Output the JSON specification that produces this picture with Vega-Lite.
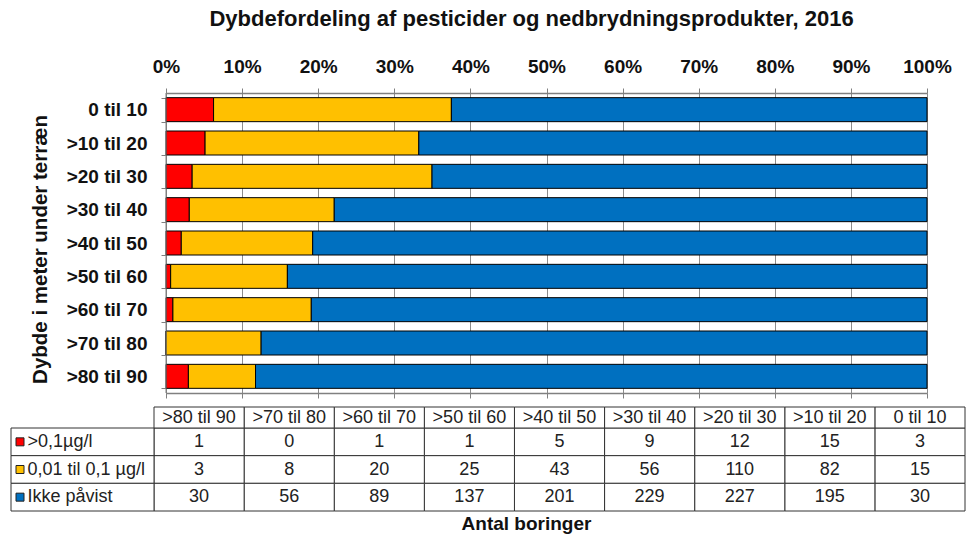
{
  "$schema": "https://vega.github.io/schema/vega-lite/v6.json",
  "width": 761,
  "height": 300,
  "autosize": {"type": "none"},
  "padding": {"left": 166, "top": 93, "right": 51, "bottom": 141},
  "background": "white",
  "config": {
    "view": {"stroke": null},
    "font": "Liberation Sans",
    "axis": {"labelFont": "Liberation Sans", "titleFont": "Liberation Sans"},
    "text": {"font": "Liberation Sans"}
  },
  "title": {
    "text": "Dybdefordeling af pesticider og nedbrydningsprodukter, 2016",
    "font": "Liberation Sans",
    "fontSize": 22,
    "fontWeight": "bold",
    "color": "#111111",
    "frame": "group",
    "anchor": "middle",
    "dx": -15,
    "offset": 26
  },
  "datasets": {
    "counts": [
      {"depth": "0 til 10", "series": ">0,1µg/l", "n": 3},
      {"depth": "0 til 10", "series": "0,01 til 0,1 µg/l", "n": 15},
      {"depth": "0 til 10", "series": "Ikke påvist", "n": 30},
      {"depth": ">10 til 20", "series": ">0,1µg/l", "n": 15},
      {"depth": ">10 til 20", "series": "0,01 til 0,1 µg/l", "n": 82},
      {"depth": ">10 til 20", "series": "Ikke påvist", "n": 195},
      {"depth": ">20 til 30", "series": ">0,1µg/l", "n": 12},
      {"depth": ">20 til 30", "series": "0,01 til 0,1 µg/l", "n": 110},
      {"depth": ">20 til 30", "series": "Ikke påvist", "n": 227},
      {"depth": ">30 til 40", "series": ">0,1µg/l", "n": 9},
      {"depth": ">30 til 40", "series": "0,01 til 0,1 µg/l", "n": 56},
      {"depth": ">30 til 40", "series": "Ikke påvist", "n": 229},
      {"depth": ">40 til 50", "series": ">0,1µg/l", "n": 5},
      {"depth": ">40 til 50", "series": "0,01 til 0,1 µg/l", "n": 43},
      {"depth": ">40 til 50", "series": "Ikke påvist", "n": 201},
      {"depth": ">50 til 60", "series": ">0,1µg/l", "n": 1},
      {"depth": ">50 til 60", "series": "0,01 til 0,1 µg/l", "n": 25},
      {"depth": ">50 til 60", "series": "Ikke påvist", "n": 137},
      {"depth": ">60 til 70", "series": ">0,1µg/l", "n": 1},
      {"depth": ">60 til 70", "series": "0,01 til 0,1 µg/l", "n": 20},
      {"depth": ">60 til 70", "series": "Ikke påvist", "n": 89},
      {"depth": ">70 til 80", "series": ">0,1µg/l", "n": 0},
      {"depth": ">70 til 80", "series": "0,01 til 0,1 µg/l", "n": 8},
      {"depth": ">70 til 80", "series": "Ikke påvist", "n": 56},
      {"depth": ">80 til 90", "series": ">0,1µg/l", "n": 1},
      {"depth": ">80 til 90", "series": "0,01 til 0,1 µg/l", "n": 3},
      {"depth": ">80 til 90", "series": "Ikke påvist", "n": 30}
    ]
  },
  "data": {"name": "counts"},
  "layer": [
    {
      "transform": [{"calculate": "indexof(['>0,1µg/l', '0,01 til 0,1 µg/l', 'Ikke påvist'], datum.series)", "as": "stackOrder"}],
      "mark": {"type": "bar", "stroke": "#000000", "strokeWidth": 1},
      "encoding": {
        "y": {
          "field": "depth", "type": "nominal",
          "sort": ["0 til 10", ">10 til 20", ">20 til 30", ">30 til 40", ">40 til 50", ">50 til 60", ">60 til 70", ">70 til 80", ">80 til 90"],
          "scale": {"paddingInner": 0.28, "paddingOuter": 0.14},
          "axis": {
            "title": "Dybde i meter under  terræn",
            "tickBand": "extent", "tickSize": 5, "labelPadding": 14, "titlePadding": 16,
            "labelFontSize": 19, "labelFontWeight": "bold", "labelColor": "#111111",
            "titleFontSize": 20.5, "titleFontWeight": "bold", "titleColor": "#111111",
            "titleY": 156,
            "domainColor": "#808080", "tickColor": "#808080", "grid": false
          }
        },
        "x": {
          "field": "n", "type": "quantitative", "stack": "normalize",
          "scale": {"domain": [0, 1]},
          "axis": {
            "orient": "top", "title": null, "format": ".0%", "labelFlush": false,
            "values": [0, 0.1, 0.2, 0.3, 0.4, 0.5, 0.6, 0.7, 0.8, 0.9, 1],
            "grid": true, "gridColor": "#8c8c8c", "gridWidth": 1,
            "tickSize": 5, "labelPadding": 12,
            "labelFontSize": 19, "labelFontWeight": "bold", "labelColor": "#111111",
            "domainColor": "#808080", "domainWidth": 1.5, "tickColor": "#808080"
          }
        },
        "color": {
          "field": "series", "type": "nominal",
          "scale": {"domain": [">0,1µg/l", "0,01 til 0,1 µg/l", "Ikke påvist"], "range": ["#FF0000", "#FFC000", "#0070C0"]},
          "legend": null
        },
        "order": {"field": "stackOrder", "type": "quantitative"}
      }
    },
    {
      "data": {"values": [{"k": 1}]},
      "mark": {"type": "rule", "color": "#808080", "strokeWidth": 1},
      "encoding": {
        "x": {
          "datum": 0, "type": "quantitative",
          "scale": {"domain": [0, 1]},
          "axis": {
            "orient": "bottom", "title": null, "labels": false, "grid": false,
            "values": [0, 0.1, 0.2, 0.3, 0.4, 0.5, 0.6, 0.7, 0.8, 0.9, 1],
            "tickSize": 5, "domainColor": "#808080", "domainWidth": 1.5, "tickColor": "#808080"
          }
        }
      }
    },
    {
      "encoding": {
        "x": {
          "field": "depth", "type": "nominal",
          "sort": [">80 til 90", ">70 til 80", ">60 til 70", ">50 til 60", ">40 til 50", ">30 til 40", ">20 til 30", ">10 til 20", "0 til 10"],
          "scale": {"range": [-12, 799], "paddingInner": 0, "paddingOuter": 0},
          "axis": {
            "orient": "bottom", "offset": 118, "labels": false, "ticks": false, "domain": false, "grid": false,
            "title": "Antal boringer", "titleFontSize": 19, "titleFontWeight": "bold", "titleColor": "#111111",
            "titlePadding": 3, "titleX": 360
          }
        },
        "y": {
          "field": "series", "type": "nominal",
          "sort": [">0,1µg/l", "0,01 til 0,1 µg/l", "Ikke påvist"],
          "scale": {"range": [335, 418], "paddingInner": 0, "paddingOuter": 0},
          "axis": null
        }
      },
      "layer": [
        {"mark": {"type": "rect", "fill": "#ffffff", "stroke": "#333333", "strokeWidth": 1}},
        {"mark": {"type": "text", "fontSize": 18, "color": "#222222"}, "encoding": {"text": {"field": "n", "type": "quantitative"}}}
      ]
    },
    {
      "transform": [{"filter": "datum.series === 'Ikke påvist'"}],
      "encoding": {
        "x": {
          "field": "depth", "type": "nominal",
          "sort": [">80 til 90", ">70 til 80", ">60 til 70", ">50 til 60", ">40 til 50", ">30 til 40", ">20 til 30", ">10 til 20", "0 til 10"],
          "scale": {"range": [-12, 799], "paddingInner": 0, "paddingOuter": 0},
          "axis": null
        },
        "y": {
          "datum": "hdr", "type": "nominal",
          "scale": {"range": [314, 335], "paddingInner": 0, "paddingOuter": 0},
          "axis": null
        }
      },
      "layer": [
        {"mark": {"type": "rect", "fill": "#ffffff", "stroke": "#333333", "strokeWidth": 1}},
        {"mark": {"type": "text", "fontSize": 18, "color": "#222222"}, "encoding": {"text": {"field": "depth", "type": "nominal"}}}
      ]
    },
    {
      "transform": [{"filter": "datum.depth === '0 til 10'"}],
      "encoding": {
        "x": {
          "datum": "leg", "type": "nominal",
          "scale": {"range": [-155, -12], "paddingInner": 0, "paddingOuter": 0},
          "axis": null
        },
        "y": {
          "field": "series", "type": "nominal",
          "sort": [">0,1µg/l", "0,01 til 0,1 µg/l", "Ikke påvist"],
          "scale": {"range": [335, 418], "paddingInner": 0, "paddingOuter": 0},
          "axis": null
        }
      },
      "layer": [
        {"mark": {"type": "rect", "fill": "#ffffff", "stroke": "#333333", "strokeWidth": 1}},
        {"mark": {"type": "text", "fontSize": 18, "color": "#222222", "align": "left", "dx": -55}, "encoding": {"text": {"field": "series", "type": "nominal"}}}
      ]
    },
    {
      "transform": [{"filter": "datum.depth === '0 til 10'"}],
      "mark": {"type": "point", "shape": "square", "filled": true, "size": 64, "stroke": "#222222", "strokeWidth": 1, "opacity": 1},
      "encoding": {
        "x": {
          "datum": "sq", "type": "nominal",
          "scale": {"type": "band", "range": [-150, -142], "paddingInner": 0, "paddingOuter": 0},
          "axis": null
        },
        "y": {
          "field": "series", "type": "nominal",
          "sort": [">0,1µg/l", "0,01 til 0,1 µg/l", "Ikke påvist"],
          "scale": {"type": "band", "range": [335, 418], "paddingInner": 0, "paddingOuter": 0},
          "axis": null
        },
        "color": {
          "field": "series", "type": "nominal",
          "scale": {"domain": [">0,1µg/l", "0,01 til 0,1 µg/l", "Ikke påvist"], "range": ["#FF0000", "#FFC000", "#0070C0"]},
          "legend": null
        }
      }
    }
  ],
  "resolve": {
    "scale": {"x": "independent", "y": "independent"},
    "axis": {"x": "independent", "y": "independent"}
  }
}
